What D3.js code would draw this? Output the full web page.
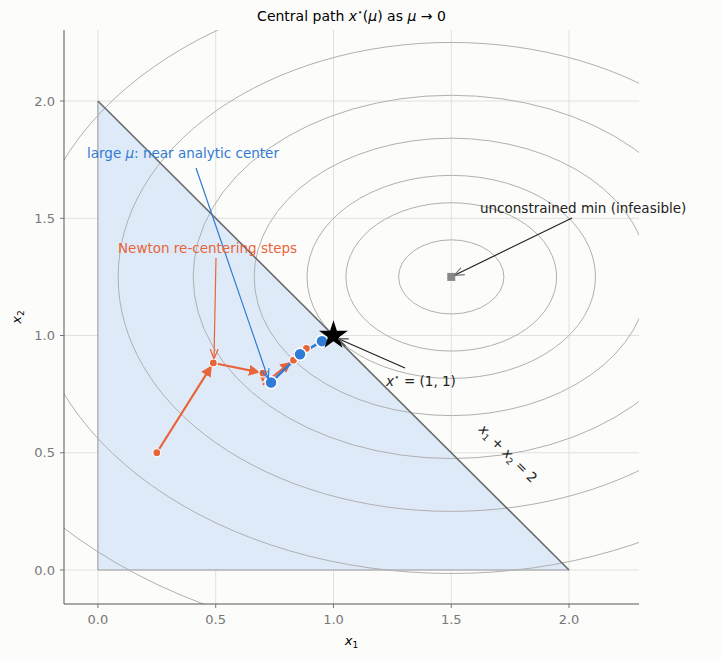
<!DOCTYPE html><html><head><meta charset="utf-8">
<script src="https://cdn.jsdelivr.net/npm/d3@7"></script>
<style>body{margin:0;background:#fcfcfa}svg{font-family:"DejaVu Sans",sans-serif}</style></head><body>
<script>
const ticks=[0,0.5,1,1.5,2];
const levels=[0.05,0.2,0.375,0.7,1.2,2,3.2,5];
const pathPts=[[0.735,0.80],[0.858,0.92],[0.951,0.976],[1,1]];
const newtonPts=[[0.25,0.5],[0.49,0.883],[0.70,0.84],[0.70,0.79],[0.83,0.895],[0.885,0.945]];
const newtonDots=[[0.25,0.5],[0.49,0.883],[0.70,0.84],[0.83,0.895],[0.885,0.945]];
const center=[1.5,1.25];
const W=721,H=659,m={l:64,r:82,t:30,b:55};
const svg=d3.select("body").append("svg").attr("width",W).attr("height",H);
const x=d3.scaleLinear().domain([-0.144,2.297]).range([m.l,W-m.r]);
const y=d3.scaleLinear().domain([-0.145,2.303]).range([H-m.b,m.t]);
const defs=svg.append("defs");
defs.append("clipPath").attr("id","c").append("rect").attr("x",m.l).attr("y",m.t).attr("width",W-m.r-m.l).attr("height",H-m.b-m.t);
function mk(id,col,w){defs.append("marker").attr("id",id).attr("viewBox","0 0 10 10").attr("refX",9).attr("refY",5).attr("markerWidth",w).attr("markerHeight",w).attr("orient","auto").attr("markerUnits","userSpaceOnUse")
 .append("path").attr("d","M0,0L10,5L0,10z").attr("fill",col);}
function mko(id,col){defs.append("marker").attr("id",id).attr("viewBox","0 0 10 10").attr("refX",9).attr("refY",5).attr("markerWidth",10).attr("markerHeight",10).attr("orient","auto").attr("markerUnits","userSpaceOnUse")
 .append("path").attr("d","M0,1L10,5L0,9").attr("fill","none").attr("stroke",col).attr("stroke-width",1.2);}
mk("ao","#e8643a",11);mk("ab","#2f7bd6",9);mko("oo","#e8643a");mko("ob","#2f7bd6");mko("og","#777");mko("ok","#555");
const g=svg.append("g").attr("clip-path","url(#c)");
// grid
ticks.forEach(t=>{g.append("line").attr("x1",x(t)).attr("x2",x(t)).attr("y1",m.t).attr("y2",H-m.b).attr("stroke","#e0e0e0");
 g.append("line").attr("y1",y(t)).attr("y2",y(t)).attr("x1",m.l).attr("x2",W-m.r).attr("stroke","#e0e0e0");});
// feasible
g.append("path").attr("d",d3.line()([[0,0],[2,0],[0,2]].map(p=>[x(p[0]),y(p[1])]))+"Z").attr("fill","#dfeaf8");
g.append("line").attr("x1",x(0)).attr("y1",y(0)).attr("x2",x(2)).attr("y2",y(0)).attr("stroke","#999");
g.append("line").attr("x1",x(0)).attr("y1",y(0)).attr("x2",x(0)).attr("y2",y(2)).attr("stroke","#999");
// ellipses
levels.forEach(L=>{g.append("ellipse").attr("cx",x(center[0])).attr("cy",y(center[1]))
 .attr("rx",x(Math.sqrt(L))-x(0)).attr("ry",y(0)-y(Math.sqrt(L/2))).attr("fill","none").attr("stroke","#b0b0b0").attr("stroke-width",1);});
g.append("line").attr("x1",x(0)).attr("y1",y(2)).attr("x2",x(2)).attr("y2",y(0)).attr("stroke","#6b6b6b").attr("stroke-width",1.6);
// spines
svg.append("line").attr("x1",m.l).attr("x2",m.l).attr("y1",m.t).attr("y2",H-m.b).attr("stroke","#555");
svg.append("line").attr("x1",m.l).attr("x2",W-m.r).attr("y1",H-m.b).attr("y2",H-m.b).attr("stroke","#555");
ticks.forEach(t=>{
 svg.append("line").attr("x1",x(t)).attr("x2",x(t)).attr("y1",H-m.b).attr("y2",H-m.b+4).attr("stroke","#777");
 svg.append("text").attr("x",x(t)).attr("y",H-m.b+20).attr("text-anchor","middle").attr("font-size",13).attr("fill","#777").text(t.toFixed(1));
 svg.append("line").attr("x1",m.l-4).attr("x2",m.l).attr("y1",y(t)).attr("y2",y(t)).attr("stroke","#777");
 svg.append("text").attr("x",m.l-9).attr("y",y(t)+4.5).attr("text-anchor","end").attr("font-size",13).attr("fill","#777").text(t.toFixed(1));});
svg.append("text").attr("x",(m.l+W-m.r)/2).attr("y",645).attr("text-anchor","middle").attr("font-size",13).html('<tspan font-style="italic">x</tspan><tspan font-size="9" dy="3">1</tspan>');
svg.append("text").attr("transform",`translate(21,${(m.t+H-m.b)/2}) rotate(-90)`).attr("text-anchor","middle").attr("font-size",13).html('<tspan font-style="italic">x</tspan><tspan font-size="9" dy="3">2</tspan>');
svg.append("text").attr("x",(m.l+W-m.r)/2).attr("y",21).attr("text-anchor","middle").attr("font-size",14).html('Central path <tspan font-style="italic">x</tspan><tspan font-size="9" dy="-6">⋆</tspan><tspan dy="6">(</tspan><tspan font-style="italic">μ</tspan>) as <tspan font-style="italic">μ</tspan> → 0');
// unconstrained min
svg.append("rect").attr("x",x(center[0])-4).attr("y",y(center[1])-4).attr("width",8).attr("height",8).attr("fill","#888");
// newton steps
for(let i=0;i<newtonPts.length-1;i++){const a=newtonPts[i],b=newtonPts[i+1];
 const dx=x(b[0])-x(a[0]),dy=y(b[1])-y(a[1]),L=Math.hypot(dx,dy),s=(L-4)/L;
 svg.append("line").attr("x1",x(a[0])).attr("y1",y(a[1])).attr("x2",x(a[0])+dx*s).attr("y2",y(a[1])+dy*s).attr("stroke","#e8643a").attr("stroke-width",2.2).attr("marker-end","url(#ao)");}
// central path
svg.append("path").attr("d",d3.line().x(d=>x(d[0])).y(d=>y(d[1]))(pathPts)).attr("fill","none").attr("stroke","#2f7bd6").attr("stroke-width",2.5);
svg.selectAll(".nd").data(newtonDots).join("circle").attr("cx",d=>x(d[0])).attr("cy",d=>y(d[1])).attr("r",4).attr("fill","#e8643a").attr("stroke","#fff").attr("stroke-width",1.2);
svg.selectAll(".bd").data(pathPts.slice(0,3)).join("circle").attr("cx",d=>x(d[0])).attr("cy",d=>y(d[1])).attr("r",6).attr("fill","#2f7bd6").attr("stroke","#fff").attr("stroke-width",1.5);
const star=d3.symbol().type(d3.symbolStar).size(260)();
svg.append("path").attr("d",star).attr("transform",`translate(${x(1)},${y(1)})`).attr("fill","#000");
// annotations
function ann(tx,ty,t,col,x1,y1,x2,y2,mid,html){
 svg.append("line").attr("x1",x1).attr("y1",y1).attr("x2",x2).attr("y2",y2).attr("stroke",col).attr("stroke-width",1.2).attr("marker-end",`url(#${mid})`);
 const e=svg.append("text").attr("x",tx).attr("y",ty).attr("font-size",13.5).attr("fill",col);
 if(html)e.html(t);else e.text(t);}
ann(87,158,'large <tspan font-style="italic">μ</tspan>: near analytic center',"#2f7bd6",196,168,268,378,"ob",true);
ann(118,253,"Newton re-centering steps","#e8643a",216,258,214,358,"oo");
ann(480,213,"unconstrained min (infeasible)","#222",572,218,455,275,"og");
ann(386,386,'<tspan font-style="italic">x</tspan><tspan font-size="9" dy="-6">⋆</tspan><tspan dy="6"> = (1, 1)</tspan>',"#222",405,368,339,339,"ok",true);
svg.append("text").attr("transform","translate(478,430) rotate(45)").attr("font-size",13.5).attr("fill","#222")
 .html('<tspan font-style="italic">x</tspan><tspan font-size="9" dy="3">1</tspan><tspan dy="-3"> + </tspan><tspan font-style="italic">x</tspan><tspan font-size="9" dy="3">2</tspan><tspan dy="-3"> = 2</tspan>');
</script></body></html>
